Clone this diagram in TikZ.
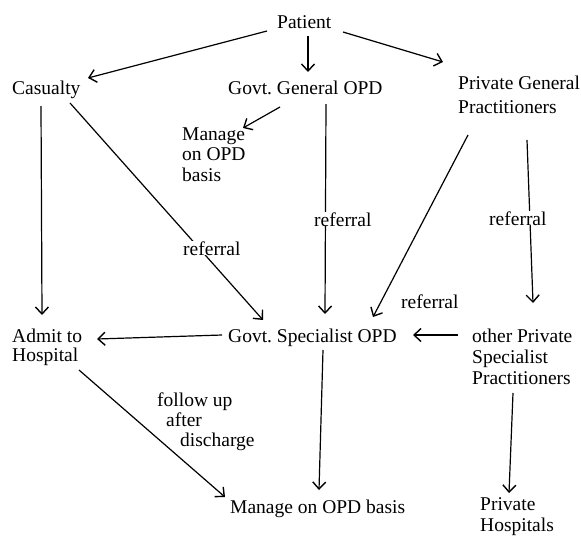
\documentclass[tikz,border=0pt]{standalone}
\usepackage{fontspec}
\setmainfont{Liberation Serif}
\usetikzlibrary{arrows.meta}
\begin{document}
\begin{tikzpicture}[x=1pt,y=-1pt,
  txt/.style={inner sep=0pt,anchor=base west,align=left,font=\fontsize{19.5}{21}\selectfont},
  lbl/.style={txt,fill=white,inner xsep=1pt},
  conn/.style={line width=1.2pt,-{Straight Barb[length=7pt,width=13pt,line width=1.4pt]}}]
\useasboundingbox (0,0) rectangle (581,536);
\fill[white] (0,0) rectangle (581,536);
% nodes (base west = baseline of the last line)
\node[txt] (pat) at (277,28) {Patient};
\node[txt] (cas) at (12,94) {Casualty};
\node[txt] (ggo) at (228,94) {Govt.\ General OPD};
\node[txt,font=\fontsize{19.5}{24}\selectfont] (pgp) at (458,113) {Private General\\Practitioners};
\node[txt,font=\fontsize{19.5}{20.5}\selectfont] (mng) at (182,181) {Manage\\on OPD\\basis};
\node[txt,font=\fontsize{19.5}{19.5}\selectfont] (adm) at (12,361.5) {Admit to\\Hospital};
\node[txt] (gso) at (228,342) {Govt.\ Specialist OPD};
\node[txt] (ops) at (472,384) {other Private\\Specialist\\Practitioners};
\node[txt] (mob) at (230,513) {Manage on OPD basis};
\node[txt] (ph) at (480,531) {Private\\Hospitals};
\node[txt,font=\fontsize{19.5}{20}\selectfont] (fu) at (157,446) {follow up\\\hspace*{9pt}after\\\hspace*{23pt}discharge};
% connectors
\draw[conn] ([shift={(-10,3)}]pat.base west) -- ([shift={(76,-16)}]cas.base west);
\draw[conn] ([shift={(31,8)}]pat.base west) -- ([shift={(80,-22)}]ggo.base west);
\draw[conn] ([shift={(66,4)}]pat.base west) -- ([shift={(-15,-51)}]pgp.base west);
\draw[conn] ([shift={(52,13)}]ggo.base west) -- ([shift={(61,-53)}]mng.base west);
\draw[conn] ([shift={(29,12)}]cas.base west) -- ([shift={(30,-46.5)}]adm.base west);
\draw[conn] ([shift={(58,9)}]cas.base west) -- ([shift={(35,-22)}]gso.base west);
\draw[conn] ([shift={(98,10)}]ggo.base west) -- ([shift={(97,-28)}]gso.base west);
\draw[conn] ([shift={(10,22)}]pgp.base west) -- ([shift={(145,-25)}]gso.base west);
\draw[conn] ([shift={(69,27)}]pgp.base west) -- ([shift={(61,-81)}]ops.base west);
\draw[conn] ([shift={(-14,-49)}]ops.base west) -- ([shift={(185,-7)}]gso.base west);
\draw[conn] ([shift={(-6,-7)}]gso.base west) -- ([shift={(85,-22.5)}]adm.base west);
\draw[conn] ([shift={(95,8)}]gso.base west) -- ([shift={(89,-23)}]mob.base west);
\draw[conn] ([shift={(67,8.5)}]adm.base west) -- ([shift={(-5,-16)}]mob.base west);
\draw[conn] ([shift={(41,9)}]ops.base west) -- ([shift={(29,-38)}]ph.base west);
% labels
\node[lbl] (ref1) at (182,255) {referral};
\node[lbl] (ref2) at (313,226) {referral};
\node[lbl] (ref3) at (488,225) {referral};
\node[txt] (ref4) at (401,308) {referral};
\end{tikzpicture}
\end{document}
